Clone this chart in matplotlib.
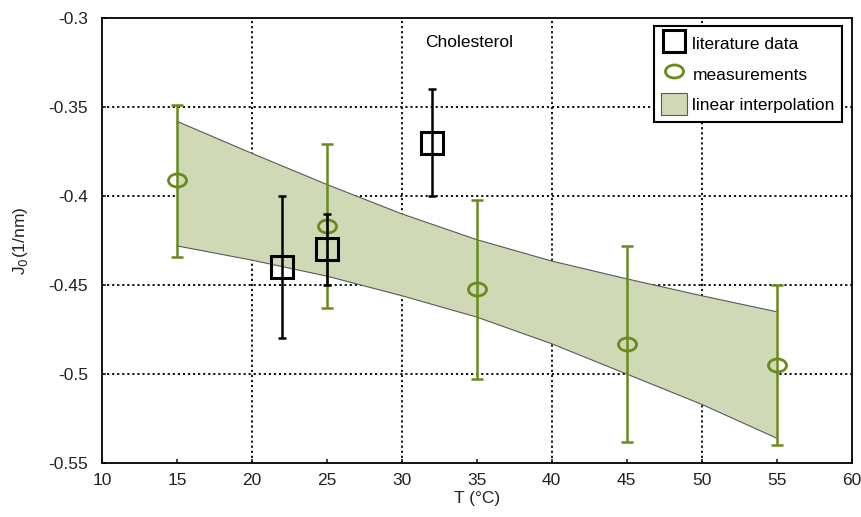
"""
Spontaneous curvature J0 of cholesterol vs temperature:
literature values, measurements and linear-interpolation band.
"""
import matplotlib
matplotlib.use("Agg")
import matplotlib.pyplot as plt
from matplotlib.patches import Patch
from matplotlib.lines import Line2D
from matplotlib.path import Path
from matplotlib.transforms import Affine2D

# ----- data -----
lit_t = [22, 25, 32]
lit_j0 = [-0.440, -0.430, -0.370]
lit_err = [0.040, 0.020, 0.030]

meas_t = [15, 25, 35, 45, 55]
meas_j0 = [-0.391, -0.417, -0.452, -0.483, -0.495]
meas_err_lo = [0.043, 0.046, 0.051, 0.055, 0.045]
meas_err_hi = [0.042, 0.046, 0.050, 0.055, 0.045]

band_t = [15, 20, 25, 30, 35, 40, 45, 50, 55]
band_upper = [-0.358, -0.376, -0.3935, -0.410, -0.4245, -0.4365, -0.4465, -0.456, -0.465]
band_lower = [-0.428, -0.436, -0.445, -0.456, -0.468, -0.483, -0.500, -0.517, -0.536]

x_ticks = [10, 15, 20, 25, 30, 35, 40, 45, 50, 55, 60]
y_ticks = [-0.55, -0.5, -0.45, -0.4, -0.35, -0.3]
y_tick_labels = ["-0.55", "-0.5", "-0.45", "-0.4", "-0.35", "-0.3"]
x_grid = [20, 30, 40, 50]
y_grid = [-0.5, -0.45, -0.4, -0.35]

GREEN = "#6a8a1c"
FILL = "#cfd9b6"
FS = 12.5

plt.rcParams["font.family"] = ["Liberation Sans", "DejaVu Sans"]
plt.rcParams["font.size"] = FS

# slightly flattened circle, like the original markers
ellipse = Path.unit_circle().transformed(Affine2D().scale(1.0, 0.72))

fig = plt.figure(figsize=(8.61, 5.17), dpi=100)
ax = fig.add_axes([0.1185, 0.1044, 0.8705, 0.8606])

for x in x_grid:
    ax.axvline(x, color="k", lw=1.3, ls=(0, (1.2, 1.6)), zorder=1)
for y in y_grid:
    ax.axhline(y, color="k", lw=1.3, ls=(0, (1.2, 1.6)), zorder=1)

ax.fill_between(band_t, band_lower, band_upper, facecolor=FILL,
                edgecolor="none", zorder=2)
ax.plot(band_t, band_upper, color="0.35", lw=0.8, zorder=2.5)
ax.plot(band_t, band_lower, color="0.35", lw=0.8, zorder=2.5)

ax.errorbar(meas_t, meas_j0, yerr=[meas_err_lo, meas_err_hi], fmt="none",
            ecolor=GREEN, elinewidth=1.8, capsize=4, capthick=1.8, zorder=3)
ax.plot(meas_t, meas_j0, ls="none", marker=ellipse, ms=13, mfc="none",
        mec=GREEN, mew=2.0, zorder=4)

ax.errorbar(lit_t, lit_j0, yerr=lit_err, fmt="none", ecolor="k",
            elinewidth=1.8, capsize=3, capthick=1.8, zorder=5)
ax.plot(lit_t, lit_j0, ls="none", marker="s", ms=16.5, mfc="none",
        mec="k", mew=2.2, zorder=6)

ax.text(0.49, 0.946, "Cholesterol", transform=ax.transAxes,
        ha="center", va="center", fontsize=FS)

ax.set_xlim(10, 60)
ax.set_ylim(-0.55, -0.3)
ax.set_xticks(x_ticks)
ax.set_yticks(y_ticks)
ax.set_yticklabels(y_tick_labels)
ax.tick_params(direction="in", length=3, width=1.2, pad=10, labelsize=FS,
               colors="#222222")
ax.tick_params(axis="x", pad=7)
for s in ax.spines.values():
    s.set_linewidth(1.3)
ax.set_xlabel("T (°C)", fontsize=FS, labelpad=2, color="#222222")
ax.set_ylabel(r"J$_0$(1/nm)", fontsize=FS, labelpad=13, color="#222222")

handles = [
    Line2D([], [], ls="none", marker="s", ms=16.5, mfc="none", mec="k", mew=2.2),
    Line2D([], [], ls="none", marker=ellipse, ms=13, mfc="none", mec=GREEN, mew=2.0),
    Patch(facecolor=FILL, edgecolor="0.35", lw=0.8),
]
labels = ["literature data", "measurements", "linear interpolation"]
leg = ax.legend(handles, labels, loc="upper right", bbox_to_anchor=(0.987, 0.983),
                borderaxespad=0, fancybox=False, framealpha=1, fontsize=FS,
                handlelength=1.5, handleheight=1.6, handletextpad=0.3,
                labelspacing=0.45, borderpad=0.4)
leg.get_frame().set_edgecolor("k")
leg.get_frame().set_linewidth(1.5)

fig.savefig("out.png", dpi=100)
